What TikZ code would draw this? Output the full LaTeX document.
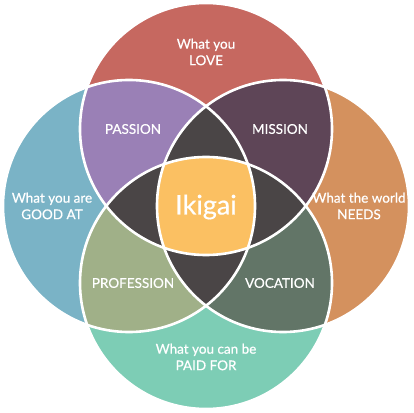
\documentclass[tikz,border=0pt]{standalone}
\usepackage{fontspec}
\setmainfont{Lato}
\newfontfamily\lblfont{Lato}[FakeBold=0.5]
\definecolor{cLove}{HTML}{C66860}
\definecolor{cGood}{HTML}{7AB3C6}
\definecolor{cNeeds}{HTML}{D4915E}
\definecolor{cPaid}{HTML}{7DCDB5}
\definecolor{cPassion}{HTML}{9A80B6}
\definecolor{cMission}{HTML}{5E4557}
\definecolor{cProf}{HTML}{A0B088}
\definecolor{cVoc}{HTML}{627567}
\definecolor{cDark}{HTML}{4A4546}
\definecolor{cCenter}{HTML}{FBC062}
\tikzset{
  lbl/.style={text=white, align=center, font=\lblfont\fontsize{13.5}{16.5}\selectfont, inner sep=0pt},
  seg/.style={draw=white, line width=2.6pt}
}
\def\Ctop{(206,283) circle[radius=126pt]}
\def\Cleft{(129,206) circle[radius=126pt]}
\def\Cright{(283,206) circle[radius=126pt]}
\def\Cbot{(206,129) circle[radius=126pt]}
\begin{document}
\begin{tikzpicture}[x=1pt,y=1pt]
\useasboundingbox (0,0) rectangle (414,412);
\fill[white] (0,0) rectangle (414,412);
\fill[cLove] \Ctop;
\fill[cGood] \Cleft;
\fill[cNeeds] \Cright;
\fill[cPaid] \Cbot;
\begin{scope}\clip \Ctop; \fill[cPassion] \Cleft; \fill[cMission] \Cright; \end{scope}
\begin{scope}\clip \Cbot; \fill[cProf] \Cleft; \fill[cVoc] \Cright; \end{scope}
\begin{scope}\clip \Ctop; \clip \Cleft; \fill[cDark] \Cright; \fill[cDark] \Cbot; \end{scope}
\begin{scope}\clip \Cbot; \clip \Cright; \fill[cDark] \Cleft; \fill[cDark] \Ctop; \end{scope}
\begin{scope}\clip \Ctop; \clip \Cleft; \clip \Cright; \fill[cCenter] \Cbot; \end{scope}
\draw[seg] \Ctop;
\draw[seg] \Cleft;
\draw[seg] \Cright;
\draw[seg] \Cbot;
\node[lbl] (love) at (206,360) {What you\\LOVE};
\node[lbl] (passion) at (133,283) {PASSION};
\node[lbl] (mission) at (280,283) {MISSION};
\node[lbl] (good) at (52,206) {What you are\\GOOD AT};
\node[lbl, font=\lblfont\fontsize{27}{30}\selectfont] (ikigai) at (206,205) {Ikigai};
\node[lbl] (needs) at (359,206) {What the world\\NEEDS};
\node[lbl] (prof) at (133,129) {PROFESSION};
\node[lbl] (voc) at (280,129) {VOCATION};
\node[lbl] (paid) at (206,55) {What you can be\\PAID FOR};
\end{tikzpicture}
\end{document}
